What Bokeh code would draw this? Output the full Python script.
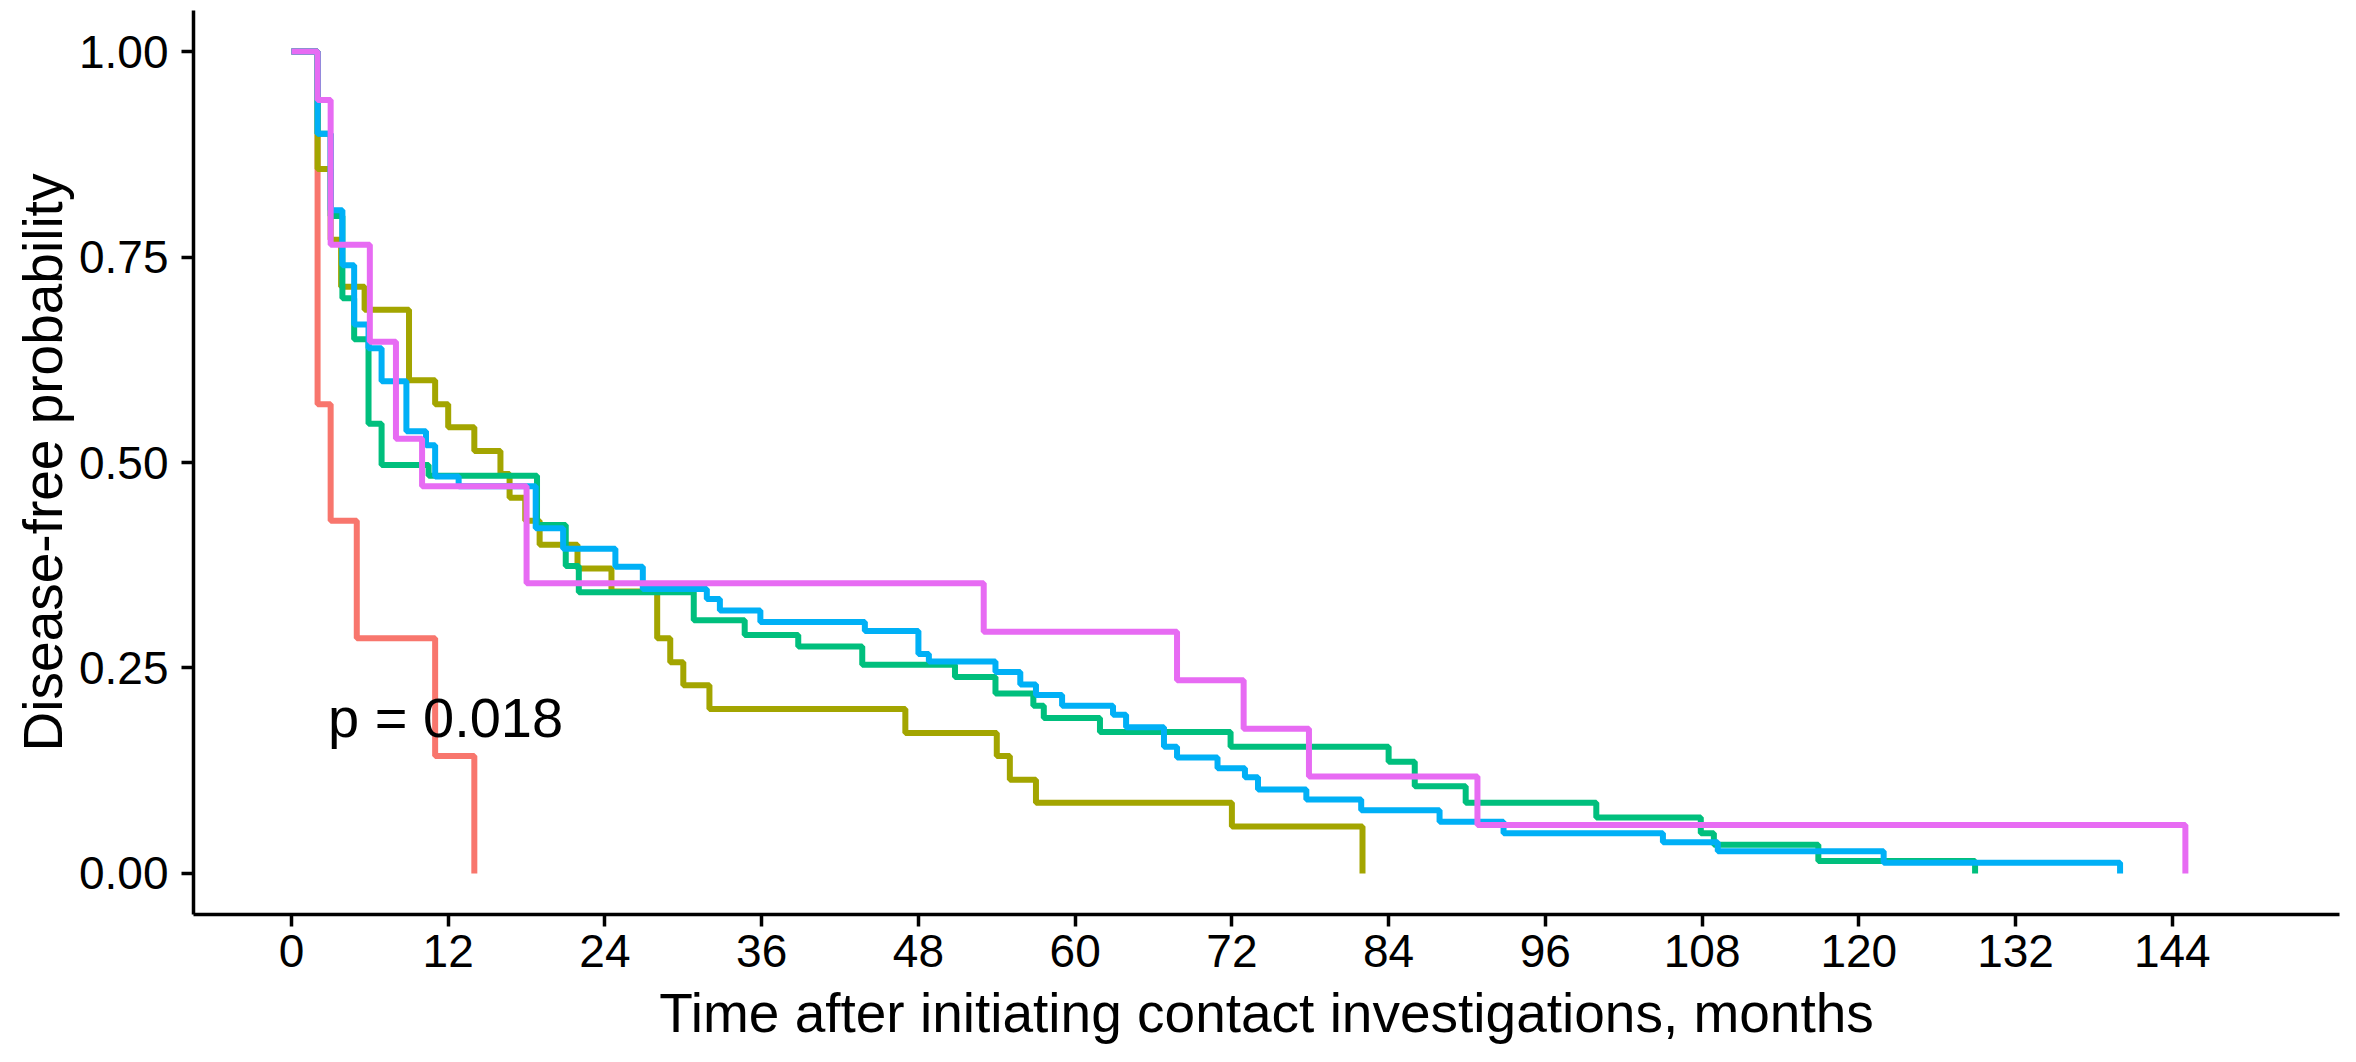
from bokeh.plotting import figure
from bokeh.models import Range1d, FixedTicker, PrintfTickFormatter
from bokeh.core.properties import value
from bokeh.embed import file_html
from bokeh.resources import INLINE

# ---- data (Kaplan-Meier step points: time of drop, survival after drop) ----
red_t = [0, 2, 3, 5, 11, 14]
red_s = [1.0, 0.571, 0.429, 0.286, 0.143, 0.0]

olive_t = [0, 2, 3, 3.8, 5.6, 9, 11, 12, 14, 16, 16.7, 17.9, 19.0, 21.9, 24.5,
           28, 29, 30, 32, 47, 54, 55, 57, 72, 82]
olive_s = [1.0, 0.857, 0.771, 0.714, 0.686, 0.600, 0.571, 0.543, 0.514, 0.486, 0.457,
           0.429, 0.400, 0.371, 0.343, 0.286, 0.257, 0.229, 0.200, 0.171, 0.143,
           0.114, 0.086, 0.057, 0.0]

green_t = [0, 2, 3, 3.9, 4.8, 5.9, 6.9, 10.5, 18.8, 21, 22, 30.8, 34.7, 38.8, 43.7,
           50.8, 53.9, 56.8, 57.6, 61.9, 71.9, 84, 86, 89.9, 99.9, 107.9, 108.9,
           116.9, 128.9]
green_s = [1.0, 0.90, 0.80, 0.70, 0.65, 0.547, 0.497, 0.484, 0.424, 0.374, 0.342,
           0.308, 0.290, 0.276, 0.254, 0.239, 0.219, 0.204, 0.189, 0.172, 0.154,
           0.136, 0.106, 0.086, 0.068, 0.049, 0.035, 0.015, 0.0]

blue_t = [0, 2, 3, 3.9, 4.8, 5.9, 6.9, 8.8, 10.3, 11, 12.8, 18.7, 20.8, 24.8, 26.9,
          31.8, 32.8, 35.9, 43.9, 48, 48.8, 53.9, 55.8, 57, 59, 62.9, 63.9, 66.8,
          67.8, 70.9, 73, 74, 77.7, 81.9, 87.9, 92.8, 105, 109.2, 121.9, 140]
blue_s = [1.0, 0.90, 0.807, 0.740, 0.668, 0.639, 0.599, 0.538, 0.521, 0.483, 0.471,
          0.420, 0.395, 0.373, 0.346, 0.334, 0.320, 0.306, 0.295, 0.267, 0.258,
          0.245, 0.230, 0.217, 0.204, 0.193, 0.178, 0.154, 0.141, 0.128, 0.117,
          0.102, 0.090, 0.077, 0.063, 0.049, 0.038, 0.027, 0.013, 0.0]

magenta_t = [0, 2, 3, 6, 8, 10, 18, 53, 67.8, 72.9, 77.9, 90.8, 145]
magenta_s = [1.0, 0.941, 0.765, 0.647, 0.529, 0.471, 0.353, 0.294, 0.235, 0.176,
             0.118, 0.059, 0.0]

x_ticks = list(range(0, 145, 12))
y_ticks = [0.0, 0.25, 0.50, 0.75, 1.00]
p_label = "p = 0.018"

series = [
    (red_t, red_s, "#F8766D"),
    (olive_t, olive_s, "#A3A500"),
    (green_t, green_s, "#00BF7D"),
    (blue_t, blue_s, "#00B0F6"),
    (magenta_t, magenta_s, "#E76BF3"),
]

FONT = "Liberation Sans"

p = figure(width=2340, height=1046, output_backend="svg", toolbar_location=None,
           x_range=Range1d(-7.5, 156.8), y_range=Range1d(-0.05, 1.05),
           min_border_left=193, min_border_right=1, min_border_top=10,
           min_border_bottom=129)
p.outline_line_color = None
p.grid.grid_line_color = None
p.background_fill_color = "white"
p.border_fill_color = "white"

for t, s, c in series:
    p.step(t, s, mode="after", line_color=c, line_width=6)

p.text(x=[2.8], y=[0.19], text=[p_label], text_font=value(FONT),
       text_font_size="56px", text_color="black", text_align="left",
       text_baseline="alphabetic")

for ax in (p.xaxis, p.yaxis):
    ax.axis_line_width = 3.5
    ax.axis_line_color = "black"
    ax.major_tick_line_width = 3.5
    ax.major_tick_line_color = "black"
    ax.major_tick_in = 0
    ax.major_tick_out = 12
    ax.minor_tick_line_color = None
    ax.major_label_text_font = FONT
    ax.major_label_text_font_size = "46px"
    ax.major_label_text_color = "black"
    ax.axis_label_text_font = FONT
    ax.axis_label_text_font_size = "55px"
    ax.axis_label_text_font_style = "normal"
    ax.axis_label_text_color = "black"

p.xaxis.ticker = FixedTicker(ticks=x_ticks)
p.yaxis.ticker = FixedTicker(ticks=y_ticks)
p.yaxis.formatter = PrintfTickFormatter(format="%.2f")
p.xaxis.axis_label = "Time after initiating contact investigations, months"
p.yaxis.axis_label = "Disease-free probability"
p.xaxis.major_label_standoff = 8
p.yaxis.major_label_standoff = 13
p.xaxis.axis_label_standoff = 12
p.yaxis.axis_label_standoff = 2

open("out.html", "w").write(file_html(p, INLINE))
